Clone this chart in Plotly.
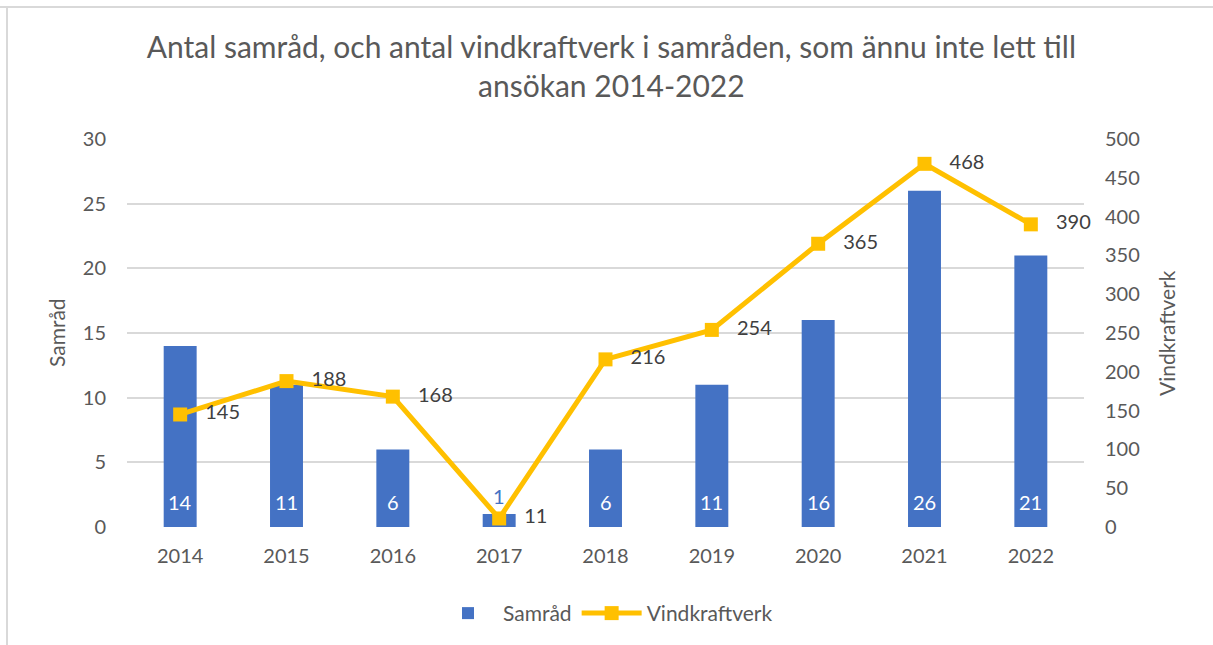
import plotly.graph_objects as go

years = ["2014", "2015", "2016", "2017", "2018", "2019", "2020", "2021", "2022"]
samrad = [14, 11, 6, 1, 6, 11, 16, 26, 21]
vindkraftverk = [145, 188, 168, 11, 216, 254, 365, 468, 390]
left_ticks = [0, 5, 10, 15, 20, 25, 30]
right_ticks = [0, 50, 100, 150, 200, 250, 300, 350, 400, 450, 500]

FONT = "Lato"
BLUE = "#4472C4"
GOLD = "#FFC000"
GREY = "#595959"

W, H = 1213, 645
ML, MR, MT, MB = 127, 129, 139, 118
PW, PH = W - ML - MR, H - MT - MB

fig = go.Figure()
fig.add_trace(go.Bar(
    x=years, y=samrad, name="Samråd", marker=dict(color=BLUE, line=dict(width=0)),
    width=0.31, yaxis="y",
))
fig.add_trace(go.Scatter(
    x=years, y=vindkraftverk, name="Vindkraftverk", yaxis="y2", cliponaxis=False,
    mode="lines+markers+text", texttemplate="\u00a0\u00a0\u00a0%{y}",
    textposition="middle right", textfont=dict(family=FONT, size=20, color="#404040"),
    line=dict(color=GOLD, width=5), marker=dict(symbol="square", size=14, color=GOLD),
))

annotations = []
for i, v in enumerate(samrad):
    if v >= 3:
        annotations.append(dict(x=i, y=0, xref="x", yref="y", text=str(v), showarrow=False,
                                yanchor="middle", yshift=25,
                                font=dict(family=FONT, size=20, color="white")))
    else:
        annotations.append(dict(x=i, y=v, xref="x", yref="y", text=str(v), showarrow=False,
                                yanchor="middle", yshift=18,
                                font=dict(family=FONT, size=20, color=BLUE)))

# axis titles
annotations.append(dict(x=(56 - ML) / PW, y=0.5, xref="paper", yref="paper", text="Samråd",
                        showarrow=False, textangle=-90, xanchor="center", yanchor="middle",
                        font=dict(family=FONT, size=21, color=GREY)))
annotations.append(dict(x=(1166 - ML) / PW, y=0.5, xref="paper", yref="paper",
                        text="Vindkraftverk", showarrow=False,
                        textangle=-90, xanchor="center", yanchor="middle",
                        font=dict(family=FONT, size=21, color=GREY)))

fig.update_layout(
    width=W, height=H,
    margin=dict(l=ML, r=MR, t=MT, b=MB, autoexpand=False),
    paper_bgcolor="white", plot_bgcolor="white",
    font=dict(family=FONT, color=GREY, size=20),
    title=dict(text="Antal samråd, och antal vindkraftverk i samråden, som ännu inte lett till<br>ansökan 2014-2022",
               x=0.504, xanchor="center", y=0.91, yanchor="top",
               font=dict(family=FONT, size=30, color=GREY)),
    xaxis=dict(type="category", range=[-0.5, 8.5], showgrid=False, showline=False, ticks="",
               automargin=False, ticklabelstandoff=15,
               tickfont=dict(size=20, color=GREY)),
    yaxis=dict(range=[0, 30], tickvals=left_ticks, showgrid=True, gridcolor="#d9d9d9", gridwidth=2,
               zeroline=False, showline=False, ticks="", ticklabelstandoff=20, automargin=False,
               tickfont=dict(size=20, color=GREY)),
    yaxis2=dict(range=[0, 500], tickvals=right_ticks, overlaying="y", side="right", showgrid=False,
                zeroline=False, showline=False, ticks="", ticklabelstandoff=20, automargin=False,
                tickfont=dict(size=20, color=GREY)),
    legend=dict(orientation="h", x=0.5, xanchor="center", y=-0.17, yanchor="top",
                font=dict(size=21, color=GREY), itemwidth=60, traceorder="normal"),
    annotations=annotations,
    shapes=[
        dict(type="line", xref="paper", yref="paper", x0=-0.2, x1=1.2,
             y0=(H - MB - 7) / PH, y1=(H - MB - 7) / PH, line=dict(color="#d9d9d9", width=2)),
        dict(type="line", xref="paper", yref="paper", x0=(7 - ML) / PW, x1=(7 - ML) / PW,
             y0=-0.4, y1=(H - MB - 7) / PH, line=dict(color="#d9d9d9", width=2)),
    ],
)
fig.write_html("out.html", config={"displayModeBar": False},
               post_script="document.body.style.margin='0px';")
